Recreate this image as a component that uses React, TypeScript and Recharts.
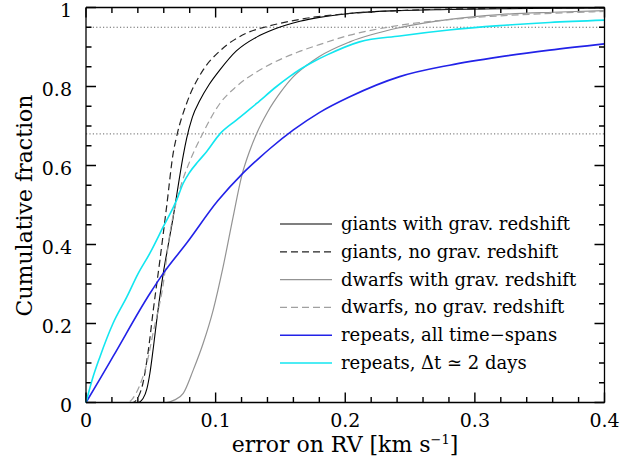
import { LineChart, Line, XAxis, YAxis, ReferenceLine, Legend, Label } from 'recharts';

// error on RV [km/s] vs cumulative fraction
const giantsGravErr = [0, 0.04, 0.044, 0.047, 0.0493, 0.052, 0.055, 0.0596, 0.0635, 0.0673, 0.0719, 0.075, 0.0776, 0.082, 0.0879, 0.095, 0.1033, 0.116, 0.1316, 0.145, 0.165, 0.18, 0.2035, 0.24, 0.28, 0.32, 0.36, 0.4];
const giantsGravFrac = [0, 0, 0.01, 0.035, 0.074, 0.14, 0.22, 0.327, 0.4, 0.47, 0.565, 0.625, 0.668, 0.722, 0.765, 0.805, 0.842, 0.89, 0.925, 0.945, 0.965, 0.975, 0.985, 0.992, 0.995, 0.997, 0.998, 0.999];

const giantsNoGravErr = [0, 0.036, 0.04, 0.044, 0.048, 0.0519, 0.057, 0.0622, 0.0673, 0.0704, 0.0776, 0.0904, 0.1033, 0.1238, 0.14, 0.165, 0.2035, 0.24, 0.3, 0.4];
const giantsNoGravFrac = [0, 0, 0.012, 0.05, 0.13, 0.234, 0.36, 0.496, 0.632, 0.68, 0.757, 0.842, 0.89, 0.935, 0.952, 0.97, 0.985, 0.992, 0.997, 0.999];

const dwarfsGravErr = [0, 0.062, 0.068, 0.075, 0.0827, 0.0904, 0.0981, 0.1058, 0.1135, 0.12, 0.1264, 0.1315, 0.14, 0.15, 0.16, 0.17, 0.18, 0.2035, 0.242, 0.2805, 0.319, 0.36, 0.4];
const dwarfsGravFrac = [0, 0, 0.006, 0.023, 0.082, 0.15, 0.234, 0.344, 0.47, 0.572, 0.638, 0.68, 0.735, 0.785, 0.825, 0.853, 0.876, 0.913, 0.949, 0.97, 0.982, 0.988, 0.992];

const dwarfsNoGravErr = [0, 0.032, 0.036, 0.041, 0.047, 0.052, 0.0596, 0.0647, 0.0724, 0.08, 0.0899, 0.1033, 0.116, 0.1316, 0.142, 0.1626, 0.18, 0.2035, 0.242, 0.2936, 0.35, 0.4];
const dwarfsNoGravFrac = [0, 0, 0.01, 0.04, 0.1, 0.18, 0.3, 0.428, 0.54, 0.61, 0.68, 0.757, 0.8, 0.837, 0.856, 0.886, 0.906, 0.93, 0.955, 0.973, 0.984, 0.99];

const repeatsAllErr = [0, 0.0108, 0.0208, 0.0493, 0.0596, 0.078, 0.1015, 0.12, 0.134, 0.142, 0.16, 0.18, 0.2035, 0.242, 0.2805, 0.319, 0.3576, 0.4];
const repeatsAllFrac = [0, 0.06, 0.116, 0.276, 0.327, 0.405, 0.51, 0.577, 0.62, 0.643, 0.69, 0.734, 0.774, 0.825, 0.854, 0.875, 0.892, 0.908];

const repeats2dErr = [0, 0.005, 0.0108, 0.0208, 0.0316, 0.04, 0.0493, 0.0596, 0.07, 0.075, 0.08, 0.0865, 0.093, 0.1033, 0.116, 0.1316, 0.147, 0.157, 0.165, 0.175, 0.186, 0.211, 0.242, 0.28, 0.319, 0.3576, 0.4];
const repeats2dFrac = [0, 0.06, 0.116, 0.2, 0.268, 0.325, 0.378, 0.445, 0.513, 0.555, 0.583, 0.61, 0.635, 0.68, 0.715, 0.757, 0.8, 0.825, 0.843, 0.862, 0.88, 0.913, 0.928, 0.943, 0.954, 0.962, 0.968];

const xTicks = [0, 0.02, 0.04, 0.06, 0.08, 0.1, 0.12, 0.14, 0.16, 0.18, 0.2, 0.22, 0.24, 0.26, 0.28, 0.3, 0.32, 0.34, 0.36, 0.38, 0.4];
const yTicks = [0, 0.05, 0.1, 0.15, 0.2, 0.25, 0.3, 0.35, 0.4, 0.45, 0.5, 0.55, 0.6, 0.65, 0.7, 0.75, 0.8, 0.85, 0.9, 0.95, 1];
const refLevels = [0.95, 0.68];

const pairs = (xs: number[], ys: number[]) => xs.map((x, i) => ({ x, y: ys[i] }));

const series = [
  { name: 'giants with grav. redshift', data: pairs(giantsGravErr, giantsGravFrac), color: '#000', dash: undefined, width: 1.1 },
  { name: 'giants, no grav. redshift', data: pairs(giantsNoGravErr, giantsNoGravFrac), color: '#222', dash: '7 4', width: 1.2 },
  { name: 'dwarfs with grav. redshift', data: pairs(dwarfsGravErr, dwarfsGravFrac), color: '#939393', dash: undefined, width: 1.2 },
  { name: 'dwarfs, no grav. redshift', data: pairs(dwarfsNoGravErr, dwarfsNoGravFrac), color: '#a0a0a0', dash: '7 4', width: 1.2 },
  { name: 'repeats, all time\u2212spans', data: pairs(repeatsAllErr, repeatsAllFrac), color: '#2222e8', dash: undefined, width: 1.6 },
  { name: 'repeats, \u0394t \u2243 2 days', data: pairs(repeats2dErr, repeats2dFrac), color: '#12e6f0', dash: undefined, width: 1.6 },
];

const FONT = 'DejaVu Serif';
const fmt = (v: number) => String(+v.toFixed(2));
const isMajor = (v: number, step: number) => Math.abs(v / step - Math.round(v / step)) < 1e-6;

// plot box is 518.5 x 395 px; tick marks point inwards, 10px major / 5.5px minor
const xMarkLen = (v: number) => (isMajor(v, 0.1) ? 10 : 5.5) / 395;
const yMarkLen = (v: number) => ((isMajor(v, 0.2) ? 10 : 5.5) * 0.4) / 518.5;

// tick marks as one broken line (null breaks each little segment)
const tickMarks = [
  ...xTicks.flatMap((v) => [{ x: v, y: 0 }, { x: v, y: xMarkLen(v) }, { x: v, y: null }]),
  ...xTicks.flatMap((v) => [{ x: v, y: 1 }, { x: v, y: 1 - xMarkLen(v) }, { x: v, y: null }]),
  ...yTicks.flatMap((v) => [{ x: 0, y: v }, { x: yMarkLen(v), y: v }, { x: 0, y: null }]),
  ...yTicks.flatMap((v) => [{ x: 0.4, y: v }, { x: 0.4 - yMarkLen(v), y: v }, { x: 0.4, y: null }]),
];

const BottomLabel = ({ x, y, payload }: any) =>
  isMajor(payload.value, 0.1) ? (
    <text x={x} y={y + 24.5} textAnchor="middle" fontFamily={FONT} fontSize={19} fill="#000">
      {fmt(payload.value)}
    </text>
  ) : (
    <g />
  );

const LeftLabel = ({ x, y, payload }: any) =>
  isMajor(payload.value, 0.2) ? (
    <text x={x - 14} y={y + 9} textAnchor="end" fontFamily={FONT} fontSize={19} fill="#000">
      {fmt(payload.value)}
    </text>
  ) : (
    <g />
  );

const LegendBox = () => (
  <svg width={340} height={170} style={{ display: 'block' }}>
    {series.map((s, i) => {
      const cy = 14 + i * 27.8;
      return (
        <g key={s.name}>
          <line x1={0} y1={cy} x2={52} y2={cy} stroke={s.color} strokeWidth={s.width} strokeDasharray={s.dash} />
          <text x={61} y={cy + 6} fontFamily={FONT} fontSize={18} fill="#000">
            {s.name}
          </text>
        </g>
      );
    })}
  </svg>
);

const frame = { stroke: '#000', strokeWidth: 1.3 };

export default function App() {
  return (
    <div style={{ position: 'absolute', left: 0, top: 0, background: '#fff' }}>
      <LineChart width={639} height={462} margin={{ top: 2.5, right: 24.5, left: 26, bottom: 29.5 }}>
        <XAxis
          xAxisId={0}
          dataKey="x"
          type="number"
          domain={[0, 0.4]}
          ticks={xTicks}
          interval={0}
          height={30}
          tickSize={0}
          tickMargin={0}
          tickLine={false}
          tick={BottomLabel}
          axisLine={frame}
        >
          <Label
            content={() => (
              <text x={345} y={452} textAnchor="middle" fontFamily={FONT} fontSize={22} fill="#000">
                error on RV [km s
                <tspan dy={-8} fontSize={13}>{'\u22121'}</tspan>
                <tspan dy={8}>]</tspan>
              </text>
            )}
          />
        </XAxis>
        <XAxis
          xAxisId="top"
          orientation="top"
          dataKey="x"
          type="number"
          domain={[0, 0.4]}
          height={5}
          tick={false}
          tickLine={false}
          axisLine={frame}
        />
        <YAxis
          yAxisId={0}
          type="number"
          domain={[0, 1]}
          ticks={yTicks}
          interval={0}
          width={60}
          tickSize={0}
          tickMargin={0}
          tickLine={false}
          tick={LeftLabel}
          axisLine={frame}
        >
          <Label
            content={() => (
              <text transform="translate(31.5,205.5) rotate(-90)" textAnchor="middle" fontFamily={FONT} fontSize={22} fill="#000">
                Cumulative fraction
              </text>
            )}
          />
        </YAxis>
        <YAxis
          yAxisId="right"
          orientation="right"
          type="number"
          domain={[0, 1]}
          width={10}
          tick={false}
          tickLine={false}
          axisLine={frame}
        />
        {refLevels.map((lv) => (
          <ReferenceLine key={lv} y={lv} stroke="#666" strokeDasharray="1.2 2.2" strokeWidth={1} />
        ))}
        <Line
          data={tickMarks}
          dataKey="y"
          type="linear"
          stroke="#000"
          strokeWidth={1.4}
          connectNulls={false}
          dot={false}
          activeDot={false}
          legendType="none"
          isAnimationActive={false}
        />
        {series.map((s) => (
          <Line
            key={s.name}
            data={s.data}
            dataKey="y"
            name={s.name}
            type="monotone"
            stroke={s.color}
            strokeWidth={s.width}
            strokeDasharray={s.dash}
            dot={false}
            activeDot={false}
            isAnimationActive={false}
          />
        ))}
        <Legend
          layout="vertical"
          align="center"
          verticalAlign="middle"
          content={() => <LegendBox />}
          wrapperStyle={{ left: 280, top: 210.3, width: 340 }}
        />
      </LineChart>
    </div>
  );
}
